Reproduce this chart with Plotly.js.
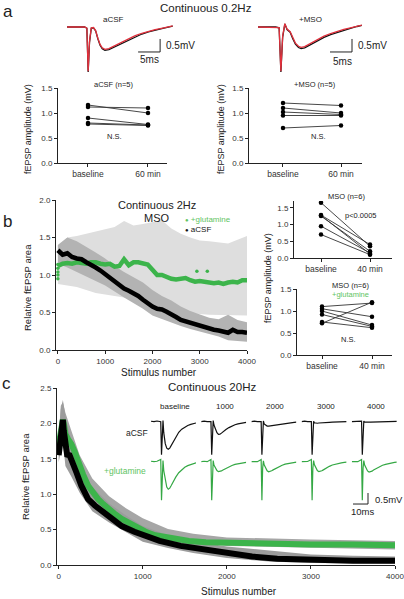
<!DOCTYPE html>
<html><head><meta charset="utf-8">
<script src="https://cdn.plot.ly/plotly-3.0.1.min.js"></script>
<style>html,body{margin:0;padding:0;background:#fff;} #chart{width:404px;height:599px;}</style>
</head><body><div id="chart"></div>
<script>
// ---------- DATA ----------
// Panel a: fEPSP amplitude (mV), continuous 0.2 Hz
const aCats = ['baseline', '60 min'];
const aAcsfBase = [1.16, 1.12, 0.90, 0.80, 0.78];
const aAcsf60   = [1.00, 1.10, 0.77, 0.76, 0.75];
const aMsoBase  = [1.20, 1.10, 1.02, 0.95, 0.70];
const aMso60    = [1.15, 1.00, 0.97, 0.95, 0.75];
// Panel a example fEPSP traces (time ms, voltage mV)
const aAcsfT = [0,1,2,3,4,4.5,4.8,5.1,5.5,6,6.5,7,7.5,8,8.6,9.5,10.5,11.5,12.5,14,15.5,17,18.5,20,22,24];
const aAcsfTrBlack = [0,0,0.01,0,0,-0.05,-1.73,-0.6,-0.05,-0.03,-0.15,-0.45,-0.7,-0.84,-0.9,-0.87,-0.79,-0.69,-0.6,-0.48,-0.37,-0.27,-0.19,-0.12,-0.04,0.03];
const aAcsfTrRed   = [0,0,0,0,0,-0.04,-1.7,-0.55,-0.03,-0.02,-0.14,-0.43,-0.67,-0.8,-0.86,-0.83,-0.75,-0.65,-0.56,-0.44,-0.33,-0.24,-0.16,-0.1,-0.03,0.04];
const aMsoT = [0,1,2,3,4,4.8,5.2,5.6,6.1,6.6,7.3,7.9,8.5,9.2,9.8,10.6,11.5,12.5,13.5,15,16.5,18,19.5,21,22.5,23.6];
const aMsoTrBlack = [0,0,0,0.01,0,-0.03,-1.73,-0.4,0.12,-0.1,-0.2,-0.45,-0.66,-0.79,-0.83,-0.8,-0.72,-0.62,-0.52,-0.4,-0.29,-0.2,-0.12,-0.05,0.02,0.06];
const aMsoTrRed   = [0,0,0,0,0,-0.02,-1.7,-0.35,0.13,-0.08,-0.18,-0.42,-0.62,-0.74,-0.78,-0.75,-0.67,-0.57,-0.47,-0.35,-0.25,-0.16,-0.09,-0.03,0.03,0.07];

// Panel b: continuous 2 Hz in MSO, relative fEPSP area
const bX = [0,100,200,300,400,500,600,700,800,900,1000,1100,1200,1300,1400,1500,1600,1700,1800,1900,2000,2100,2200,2300,2400,2500,2600,2700,2800,2900,3000,3100,3200,3300,3400,3500,3600,3700,3800,3900,4000];
const bAcsf = [1.33,1.27,1.29,1.24,1.22,1.21,1.17,1.14,1.10,1.06,1.01,0.96,0.91,0.87,0.82,0.79,0.76,0.72,0.67,0.62,0.58,0.55,0.54,0.51,0.48,0.44,0.40,0.38,0.36,0.34,0.32,0.30,0.29,0.27,0.26,0.25,0.23,0.27,0.24,0.24,0.23];
const bGln  = [1.12,1.15,1.16,1.15,1.17,1.16,1.15,1.17,1.17,1.15,1.14,1.15,1.11,1.12,1.21,1.13,1.17,1.17,1.16,1.14,1.07,1.00,1.00,0.97,0.95,0.94,0.95,0.96,0.93,0.91,0.92,0.91,0.90,0.89,0.90,0.88,0.90,0.91,0.90,0.93,0.93];
const bGlnFirstX = [0,0,0,0,0];
const bGlnFirst  = [0.95,1.00,1.04,1.09,1.14];
const bGlnOutX = [2940,3160];
const bGlnOut  = [1.05,1.05];
const bBandX = [0,200,400,600,800,1000,1200,1400,1600,1800,2000,2200,2400,2600,2800,3000,3200,3400,3600,3800,4000];
const bGlnUpper  = [1.40,1.50,1.52,1.55,1.58,1.60,1.64,1.72,1.66,1.68,1.70,1.73,1.62,1.55,1.50,1.46,1.45,1.44,1.42,1.47,1.52];
const bGlnLower  = [0.88,0.86,0.84,0.80,0.76,0.74,0.72,0.70,0.66,0.62,0.58,0.55,0.53,0.50,0.49,0.48,0.47,0.47,0.46,0.46,0.46];
const bAcsfUpper = [1.40,1.50,1.45,1.38,1.30,1.22,1.12,1.04,0.97,0.90,0.80,0.72,0.66,0.58,0.52,0.47,0.43,0.41,0.47,0.40,0.37];
const bAcsfLower = [1.15,1.10,1.05,0.98,0.92,0.86,0.78,0.70,0.62,0.55,0.46,0.41,0.37,0.32,0.28,0.25,0.21,0.18,0.13,0.12,0.11];
// Panel b right: fEPSP amplitude (mV)
const bCats = ['baseline', '40 min'];
const bMsoBase = [1.65, 1.28, 1.25, 0.95, 0.70, 1.27];
const bMso40   = [0.35, 0.40, 0.20, 0.15, 0.10, 0.12];
const bGlnBase = [1.10, 1.05, 1.00, 0.92, 0.75, 0.72];
const bGln40   = [1.18, 0.87, 0.68, 0.65, 0.62, 1.20];

// Panel c: continuous 20 Hz, relative fEPSP area
const cAcsfX = [0,10,20,30,40,50,60,80,100,130,170,210,270,350,430,510,590,670,750,900,1050,1200,1450,1750,2000,2300,2600,3000,3500,4000];
const cAcsf  = [1.55,1.70,1.85,1.95,2.00,2.05,1.90,1.60,1.56,1.55,1.45,1.31,1.12,0.93,0.84,0.77,0.70,0.63,0.55,0.47,0.41,0.34,0.27,0.21,0.16,0.12,0.09,0.07,0.06,0.06];
const cGlnX  = [0,20,40,50,60,80,110,150,190,230,290,350,410,470,530,590,660,750,850,950,1050,1150,1350,1550,1750,2000,2500,3000,3500,4000];
const cGln   = [1.70,1.85,2.00,2.05,2.00,1.85,1.78,1.71,1.60,1.45,1.28,1.12,1.02,0.93,0.86,0.81,0.73,0.65,0.58,0.51,0.46,0.42,0.37,0.34,0.32,0.31,0.30,0.29,0.29,0.28];
const cBandX = [0,25,50,80,150,250,400,600,800,1000,1300,1600,2000,2500,3000,3500,4000];
const cAcsfUpper = [1.70,2.20,2.33,2.10,1.75,1.42,1.10,0.87,0.70,0.55,0.42,0.34,0.26,0.20,0.15,0.13,0.12];
const cAcsfLower = [1.45,1.60,1.75,1.40,1.25,1.02,0.76,0.60,0.46,0.33,0.24,0.17,0.10,0.05,0.03,0.02,0.02];
const cGlnUpper  = [1.80,2.25,2.30,2.15,1.90,1.55,1.22,0.97,0.80,0.66,0.51,0.44,0.39,0.37,0.36,0.35,0.34];
const cGlnLower  = [1.60,1.80,1.85,1.70,1.55,1.25,0.97,0.76,0.60,0.47,0.38,0.33,0.27,0.25,0.24,0.23,0.22];
// Panel c example traces at stimulus numbers (time ms, voltage mV)
const cTraceLabels = ['baseline','1000','2000','3000','4000'];
const cT = [0,2,4,6.5,7,7.5,8,8.5,9.5,10.5,11.5,12.5,13.5,14.5,16.5,18.5,20.5,22.5,24.5,26.5,28.5,30];
const cTrB0 = [0.02,0,0.03,0,-1.5,-0.3,0.05,-0.5,-1.0,-1.2,-1.25,-1.2,-1.08,-0.93,-0.68,-0.48,-0.34,-0.24,-0.17,-0.12,-0.08,-0.06];
const cTrB1 = [0,0.02,0,0,-1.5,-0.3,0.05,-0.15,-0.35,-0.5,-0.58,-0.57,-0.52,-0.46,-0.36,-0.27,-0.2,-0.14,-0.1,-0.07,-0.05,-0.03];
const cTrB2 = [0,0.02,0,0,-1.5,-0.25,0.03,-0.1,-0.17,-0.2,-0.2,-0.19,-0.17,-0.15,-0.12,-0.1,-0.08,-0.06,-0.05,-0.04,-0.03,-0.02];
const cTrB3 = [0,0.02,0,0,-1.5,-0.2,0.02,-0.05,-0.07,-0.07,-0.06,-0.06,-0.05,-0.04,-0.04,-0.03,-0.02,-0.02,-0.02,-0.01,-0.01,0];
const cTrB4 = [0,0.01,0,0.02,-1.5,-0.2,0.03,-0.02,-0.03,-0.03,-0.02,-0.02,-0.02,-0.01,-0.01,-0.01,0,0,-0.01,0,0,0.01];
const cTrG0 = [0.02,0,0.02,0.1,-1.75,-0.3,0.05,-0.4,-0.9,-1.15,-1.25,-1.2,-1.08,-0.93,-0.7,-0.5,-0.36,-0.25,-0.18,-0.12,-0.08,-0.05];
const cTrG1 = [0,0.02,0,0.1,-1.75,-0.3,0.05,-0.15,-0.3,-0.4,-0.45,-0.45,-0.42,-0.38,-0.3,-0.23,-0.17,-0.12,-0.09,-0.06,-0.04,-0.03];
const cTrG2 = [0,0.01,0,0.1,-1.75,-0.3,0.04,-0.14,-0.3,-0.41,-0.46,-0.45,-0.41,-0.37,-0.29,-0.22,-0.16,-0.11,-0.08,-0.05,-0.03,-0.02];
const cTrG3 = [0,0.02,0.01,0.1,-1.75,-0.3,0.05,-0.13,-0.28,-0.4,-0.45,-0.44,-0.41,-0.37,-0.28,-0.21,-0.15,-0.11,-0.08,-0.05,-0.03,-0.02];
const cTrG4 = [0,0.01,0,0.1,-1.75,-0.3,0.05,-0.14,-0.3,-0.42,-0.47,-0.46,-0.43,-0.38,-0.3,-0.22,-0.16,-0.12,-0.08,-0.05,-0.03,-0.02];
const cTracesBlack = [cTrB0,cTrB1,cTrB2,cTrB3,cTrB4];
const cTracesGreen = [cTrG0,cTrG1,cTrG2,cTrG3,cTrG4];

// ---------- LAYOUT HELPERS ----------
const W = 404, H = 599;
const F = 'Liberation Sans, Arial, sans-serif';
const GREEN = '#3cb44b', LGREEN = '#5fc463', RED = '#e0303c';
const dx = (a, b) => [a / W, b / W];
const dy = (top, bottom) => [1 - bottom / H, 1 - top / H];
const axBase = {showgrid:false, zeroline:false, showline:true, linecolor:'#222', linewidth:1,
  ticks:'outside', ticklen:3, tickwidth:1, tickcolor:'#222', tickfont:{size:8, color:'#333', family:F},
  ticklabeloverflow:'allow', fixedrange:true};
const hid = (o) => Object.assign({visible:false, fixedrange:true}, o);

const traces = [];
function pairs(base, after, xa, ya) {
  for (let i = 0; i < base.length; i++) {
    traces.push({x:[0,1], y:[base[i], after[i]], xaxis:xa, yaxis:ya, mode:'lines+markers',
      line:{color:'#333', width:0.9}, marker:{color:'#000', size:4.5}, hoverinfo:'skip', showlegend:false});
  }
}
function band(x, up, lo, xa, ya, color) {
  traces.push({x: x.concat(x.slice().reverse()), y: up.concat(lo.slice().reverse()), xaxis:xa, yaxis:ya,
    mode:'lines', fill:'toself', fillcolor:color, line:{width:0, color:color}, hoverinfo:'skip', showlegend:false});
}
function line(x, y, xa, ya, color, w) {
  traces.push({x:x, y:y, xaxis:xa, yaxis:ya, mode:'lines', line:{color:color, width:w}, hoverinfo:'skip', showlegend:false});
}

// Panel a
pairs(aAcsfBase, aAcsf60, 'x', 'y');
pairs(aMsoBase, aMso60, 'x2', 'y2');
line(aAcsfT, aAcsfTrBlack, 'x3', 'y3', '#111', 1.3);
line(aAcsfT, aAcsfTrRed, 'x3', 'y3', RED, 1.3);
line(aMsoT, aMsoTrBlack, 'x4', 'y4', '#111', 1.3);
line(aMsoT, aMsoTrRed, 'x4', 'y4', RED, 1.3);

// Panel b main
band(bBandX, bGlnUpper, bGlnLower, 'x5', 'y5', '#dedede');
band(bBandX, bAcsfUpper, bAcsfLower, 'x5', 'y5', '#b3b3b3');
line(bX, bGln, 'x5', 'y5', GREEN, 4.5);
traces.push({x:bGlnFirstX, y:bGlnFirst, xaxis:'x5', yaxis:'y5', mode:'markers', marker:{color:GREEN, size:3.5}, cliponaxis:false, hoverinfo:'skip', showlegend:false});
traces.push({x:bGlnOutX, y:bGlnOut, xaxis:'x5', yaxis:'y5', mode:'markers', marker:{color:GREEN, size:3.5}, hoverinfo:'skip', showlegend:false});
line(bX, bAcsf, 'x5', 'y5', '#000', 4.5);

// Panel b right
pairs(bMsoBase, bMso40, 'x6', 'y6');
pairs(bGlnBase, bGln40, 'x7', 'y7');

// Panel c main
band(cBandX, cGlnUpper, cGlnLower, 'x8', 'y8', '#a6a6a6');
band(cBandX, cAcsfUpper, cAcsfLower, 'x8', 'y8', '#9c9c9c');
line(cGlnX, cGln, 'x8', 'y8', GREEN, 6);
line(cAcsfX, cAcsf, 'x8', 'y8', '#000', 6);

// Panel c inset traces
for (let k = 0; k < 5; k++) {
  const xa = 'x' + (9 + k);
  line(cT, cTracesBlack[k], xa, 'y9', '#111', 1.2);
  line(cT, cTracesGreen[k], xa, 'y10', '#35a845', 1.2);
}

const layout = {
  width: W, height: H, margin:{l:0, r:0, t:0, b:0}, autosize:false,
  paper_bgcolor:'#fff', plot_bgcolor:'rgba(0,0,0,0)', showlegend:false,
  font:{family:F, color:'#222'},
  // a left
  xaxis: Object.assign({}, axBase, {domain:dx(58,167), range:[-0.5,1.317], tickvals:[0,1], ticktext:aCats, anchor:'y', tickfont:{size:8.5,color:'#333',family:F}}),
  yaxis: Object.assign({}, axBase, {domain:dy(88,163), range:[0,1.5], tickvals:[0,0.5,1,1.5], tickformat:'.1f', anchor:'x'}),
  // a right
  xaxis2: Object.assign({}, axBase, {domain:dx(249,362), range:[-0.586,1.362], tickvals:[0,1], ticktext:aCats, anchor:'y2', tickfont:{size:8.5,color:'#333',family:F}}),
  yaxis2: Object.assign({}, axBase, {domain:dy(88,163), range:[0,1.5], tickvals:[0,0.5,1,1.5], tickformat:'.1f', anchor:'x2'}),
  // a traces
  xaxis3: hid({domain:dx(60,200), range:[-1.6,30.2], anchor:'y3'}),
  yaxis3: hid({domain:dy(16,78), range:[-1.96,0.423], anchor:'x3'}),
  xaxis4: hid({domain:dx(250,392), range:[-1.82,30.45], anchor:'y4'}),
  yaxis4: hid({domain:dy(16,78), range:[-1.96,0.423], anchor:'x4'}),
  // b main
  xaxis5: Object.assign({}, axBase, {domain:dx(56,247), range:[-40,4000], tickvals:[0,1000,2000,3000,4000], anchor:'y5'}),
  yaxis5: Object.assign({}, axBase, {domain:dy(200,350), range:[0,2], tickvals:[0,0.5,1,1.5,2], tickformat:'.1f', anchor:'x5'}),
  // b right top
  xaxis6: Object.assign({}, axBase, {domain:dx(294,392), range:[-0.551,1.449], tickvals:[0,1], ticktext:bCats, anchor:'y6', tickfont:{size:8.5,color:'#333',family:F}}),
  yaxis6: Object.assign({}, axBase, {domain:dy(201,258), range:[0,1.7], tickvals:[0,0.5,1,1.5], tickformat:'.1f', anchor:'x6'}),
  // b right bottom
  xaxis7: Object.assign({}, axBase, {domain:dx(297,392), range:[-0.5,1.4], tickvals:[0,1], ticktext:bCats, anchor:'y7', tickfont:{size:8.5,color:'#333',family:F}}),
  yaxis7: Object.assign({}, axBase, {domain:dy(289,355), range:[0,1.5], tickvals:[0,0.5,1,1.5], tickformat:'.1f', anchor:'x7'}),
  // c main
  xaxis8: Object.assign({}, axBase, {domain:dx(57,395), range:[-20,4000], tickvals:[0,1000,2000,3000,4000], anchor:'y8'}),
  yaxis8: Object.assign({}, axBase, {domain:dy(388,565), range:[0,2.5], tickvals:[0,0.5,1,1.5,2,2.5], tickformat:'.1f', anchor:'x8'}),
  yaxis9: hid({domain:dy(410,460), range:[-1.74,0.53], anchor:'x9'}),
  yaxis10: hid({domain:dy(452,508), range:[-2.10,0.44], anchor:'x9'}),
  annotations: [],
  shapes: []
};
for (let k = 0; k < 5; k++) {
  const s = 151 + 50.2 * k;
  layout['xaxis' + (9 + k)] = hid({domain:dx(s, s + 45), range:[0,30], anchor:'y9'});
}

const A = layout.annotations;
function txt(text, x, y, size, opts) {
  A.push(Object.assign({text:text, x:x / W, y:1 - y / H, xref:'paper', yref:'paper', showarrow:false,
    xanchor:'center', yanchor:'middle', font:{size:size, family:F, color:'#222'}}, opts || {}));
}
// panel letters & titles
txt('a', 8, 11, 17); txt('b', 7, 221, 17); txt('c', 6, 383, 17);
txt('Continuous 0.2Hz', 206, 8, 11.5);
txt('aCSF', 113, 20, 8); txt('+MSO', 310, 20, 8);
txt('0.5mV', 164, 45, 10, {xanchor:'left'}); txt('5ms', 149, 59, 10);
txt('0.5mV', 356, 45, 10, {xanchor:'left'}); txt('5ms', 342, 61, 10);
txt('aCSF (n=5)', 113, 85, 7.5); txt('+MSO (n=5)', 315, 85, 7.5);
txt('N.S.', 115, 137, 7.5); txt('N.S.', 318, 137, 7.5);
txt('fEPSP amplitude (mV)', 28, 129, 9, {textangle:-90});
txt('fEPSP amplitude (mV)', 221, 129, 9, {textangle:-90});
// b
txt('Continuous 2Hz', 157, 205, 11); txt('MSO', 157, 218, 11);
txt('<span style="color:' + LGREEN + '"><span style="font-size:6px">●</span> +glutamine</span><br>' +
    '<span style="color:#111"><span style="font-size:6px">●</span> aCSF</span>',
    183, 224.5, 8, {xanchor:'left', align:'left'});
txt('Relative fEPSP area', 27, 288, 9.5, {textangle:-90});
txt('Stimulus number', 159, 372, 10);
txt('MSO (n=6)', 346, 196, 7.5); txt('p<0.0005', 361, 215, 7.5);
txt('fEPSP amplitude (mV)', 268, 278, 9, {textangle:-90});
txt('MSO (n=6)', 350, 285, 7.5);
txt('+glutamine', 350, 294, 7.5, {font:{size:7.5, color:LGREEN, family:F}});
txt('N.S.', 348, 340, 7.5);
// c
txt('Continuous 20Hz', 212, 387, 11.5);
for (let k = 0; k < 5; k++) txt(cTraceLabels[k], 175 + 50.2 * k, 406, 8);
txt('aCSF', 150, 433, 8.5, {xanchor:'right'});
txt('+glutamine', 148, 471, 8.5, {xanchor:'right', font:{size:8.5, color:LGREEN, family:F}});
txt('0.5mV', 373, 499, 9.5, {xanchor:'left'}); txt('10ms', 362, 511, 9.5);
txt('Relative fEPSP area', 25, 477, 9.5, {textangle:-90});
txt('Stimulus number', 239, 591, 10);

// scale bars (in trace-axis data units: ms and mV)
const S = layout.shapes;
function bar(xref, yref, x0, y0, x1, y1) {
  S.push({type:'line', xref:xref, yref:yref, x0:x0, y0:y0, x1:x1, y1:y1, line:{color:'#222', width:1}});
}
bar('x3','y3', 21.14, -0.96, 21.14, -0.46); bar('x3','y3', 16.14, -0.96, 21.14, -0.96);
bar('x4','y4', 21.36, -0.96, 21.36, -0.46); bar('x4','y4', 16.36, -0.96, 21.36, -0.96);
bar('x13','y10', 10.8, -1.92, 10.8, -1.42); bar('x13','y10', 0.8, -1.92, 10.8, -1.92);

Plotly.newPlot('chart', traces, layout, {staticPlot:true, displayModeBar:false});
</script></body></html>
